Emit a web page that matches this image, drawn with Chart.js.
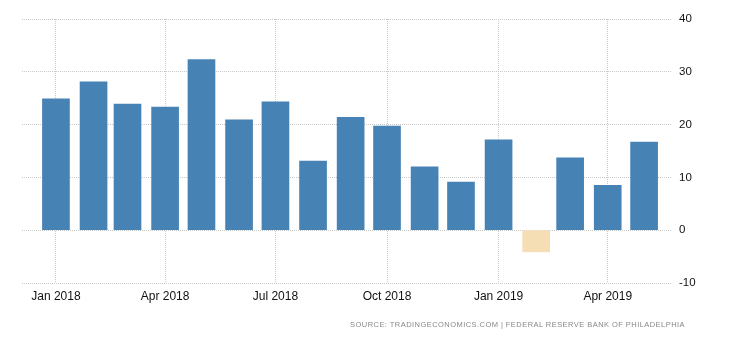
<!DOCTYPE html>
<html>
<head>
<meta charset="utf-8">
<script src="https://cdn.jsdelivr.net/npm/chart.js@4"></script>
<style>
html, body { margin: 0; padding: 0; background: #fff; }
#wrap { position: relative; width: 730px; height: 340px; }
#source {
    position: absolute; right: 45px; top: 320px;
    font-family: "Liberation Sans", Arial, sans-serif; font-size: 7.5px;
    letter-spacing: 0.45px; color: #888; white-space: nowrap;
}
</style>
</head>
<body>
<div id="wrap">
    <canvas id="chart" width="730" height="340"></canvas>
    <div id="source">SOURCE: TRADINGECONOMICS.COM | FEDERAL RESERVE BANK OF PHILADELPHIA</div>
</div>
<script>
const months = ["2018-01", "2018-02", "2018-03", "2018-04", "2018-05", "2018-06",
    "2018-07", "2018-08", "2018-09", "2018-10", "2018-11", "2018-12",
    "2019-01", "2019-02", "2019-03", "2019-04", "2019-05"];
const values = [24.9, 28.1, 23.9, 23.3, 32.3, 20.9, 24.3, 13.1, 21.4, 19.7, 12.0, 9.1,
    17.1, -4.1, 13.7, 8.5, 16.7];
const tickMonths = ["2018-01", "2018-04", "2018-07", "2018-10", "2019-01", "2019-04"];
const tickLabels = ["Jan 2018", "Apr 2018", "Jul 2018", "Oct 2018", "Jan 2019", "Apr 2019"];
const yMin = -10, yMax = 40, yStep = 10;

// days since 1 Jan 2018, so bars sit on a time-like linear axis
function dayOf(m) {
    let [y, mo] = m.split("-").map(Number);
    return (Date.UTC(y, mo - 1, 1) - Date.UTC(2018, 0, 1)) / 86400000;
}

let ctx = document.getElementById("chart").getContext("2d");
let chart = new Chart(ctx, {
    type: "bar",
    data: {
        datasets: [
            {
                data: months.map((m, i) => ({ x: dayOf(m), y: values[i] })),
                backgroundColor: values.map(v => v < 0 ? "#f5deb3" : "#4682b4"),
                barThickness: 27,
            },
        ],
    },
    options: {
        responsive: false,
        animation: false,
        layout: { padding: { left: 22, top: 19, right: 0, bottom: 0 } },
        plugins: { legend: { display: false }, tooltip: { enabled: false } },
        scales: {
            x: {
                type: "linear",
                offset: false,
                min: -28,
                max: 508,
                afterBuildTicks: (scale) => {
                    scale.ticks = tickMonths.map(m => ({ value: dayOf(m) }));
                },
                afterFit: (scale) => { scale.height = 57; },
                grid: { offset: false, color: "#c8c8c8", drawTicks: false, borderDash: [1, 1] },
                border: { display: false, dash: [1, 1] },
                ticks: {
                    autoSkip: false,
                    maxRotation: 0,
                    padding: 6,
                    color: "#111",
                    font: { family: "'Liberation Sans', Arial", size: 12 },
                    callback: (value, index) => tickLabels[index],
                },
            },
            y: {
                position: "right",
                min: yMin,
                max: yMax,
                afterFit: (scale) => { scale.width = 58; },
                grid: { color: "#c8c8c8", drawTicks: false, borderDash: [1, 1] },
                border: { display: false, dash: [1, 1] },
                ticks: {
                    stepSize: yStep,
                    padding: 7,
                    color: "#111",
                    font: { family: "'Liberation Sans', Arial", size: 11.5 },
                },
            },
        },
    },
});
</script>
</body>
</html>
